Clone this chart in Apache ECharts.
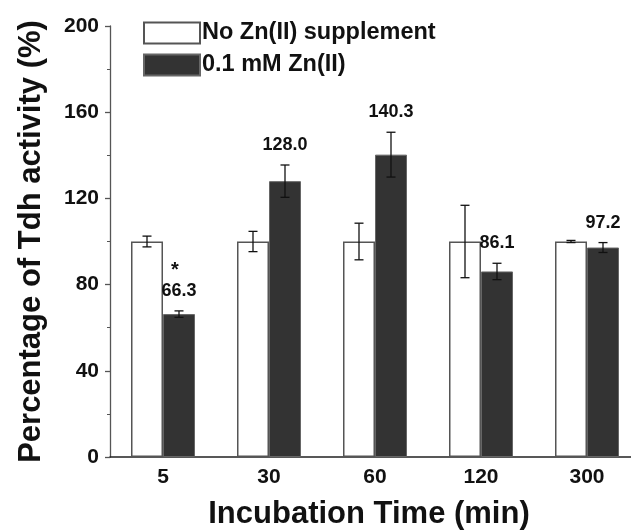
<!DOCTYPE html>
<html>
<head>
<meta charset="utf-8">
<script src="https://cdn.jsdelivr.net/npm/echarts@6/dist/echarts.min.js"></script>
<style>
  html, body { margin: 0; padding: 0; background: #fff; }
  #chart { width: 631px; height: 531px; }
</style>
</head>
<body>
<div id="chart"></div>
<script>
// data
const times = ['5', '30', '60', '120', '300']
const noZinc = [100, 100, 100, 100, 100]
const noZincErr = [2.5, 4.7, 8.5, 16.8, 0.5]
const zinc = [66.3, 128.0, 140.3, 86.1, 97.2]
const zincErr = [1.5, 7.5, 10.4, 3.8, 2.3]
const zincLabels = ['66.3', '128.0', '140.3', '86.1', '97.2']
const marks = ['*', '', '', '', '']
const yTicks = [0, 40, 80, 120, 160, 200]

const font = 'Liberation Sans, Arial, sans-serif'
const barW = 32

// error bar items: [category, low, high, side]
const errData = []
times.forEach((t, i) => {
  errData.push([i, noZinc[i] - noZincErr[i], noZinc[i] + noZincErr[i], -1])
  errData.push([i, zinc[i] - zincErr[i], zinc[i] + zincErr[i], 1])
})

function renderErr(params, api) {
  const cat = api.value(0)
  const side = api.value(3)
  const lo = api.coord([cat, api.value(1)])
  const hi = api.coord([cat, api.value(2)])
  const x = lo[0] + side * barW / 2
  const cap = 4.5
  const style = { stroke: '#111', lineWidth: 1.3 }
  return {
    type: 'group',
    children: [
      { type: 'line', shape: { x1: x, y1: lo[1], x2: x, y2: hi[1] }, style },
      { type: 'line', shape: { x1: x - cap, y1: lo[1], x2: x + cap, y2: lo[1] }, style },
      { type: 'line', shape: { x1: x - cap, y1: hi[1], x2: x + cap, y2: hi[1] }, style }
    ]
  }
}

// value labels above the zinc error bars
const labelData = times.map((t, i) => [i, zinc[i] + zincErr[i], zincLabels[i], marks[i]])

function renderLabel(params, api) {
  const i = params.dataIndex
  const p = api.coord([api.value(0), api.value(1)])
  const x = p[0] + barW / 2
  const children = [{
    type: 'text',
    style: {
      x: x, y: p[1] - 20, text: labelData[i][2],
      font: 'bold 18px ' + font, fill: '#111',
      textAlign: 'center', textVerticalAlign: 'middle'
    }
  }]
  if (labelData[i][3]) {
    children.push({
      type: 'text',
      style: {
        x: x - 4, y: p[1] - 40, text: labelData[i][3],
        font: 'bold 20px ' + font, fill: '#111',
        textAlign: 'center', textVerticalAlign: 'middle'
      }
    })
  }
  return { type: 'group', children }
}

const chart = echarts.init(document.getElementById('chart'), null, { renderer: 'canvas' })
chart.setOption({
  animation: false,
  backgroundColor: '#fff',
  textStyle: { fontFamily: font },
  grid: { left: 110, top: 26, width: 530, bottom: 74, containLabel: false, outerBoundsMode: 'none' },
  legend: {
    orient: 'vertical',
    left: 143,
    top: 21,
    icon: 'rect',
    itemWidth: 56,
    itemHeight: 21,
    itemGap: 8,
    padding: 0,
    data: ['No Zn(II) supplement', '0.1 mM Zn(II)'],
    textStyle: { fontFamily: font, fontWeight: 'bold', fontSize: 23.5, color: '#111', padding: [0, 0, 0, -3] }
  },
  xAxis: {
    type: 'category',
    data: times,
    name: 'Incubation Time (min)',
    nameLocation: 'middle',
    nameGap: 42,
    nameTextStyle: { fontFamily: font, fontWeight: 'bold', fontSize: 31, color: '#111', padding: [0, 12, 0, 0] },
    axisLine: { lineStyle: { color: '#222', width: 1.5 } },
    axisTick: { show: false },
    axisLabel: { fontFamily: font, fontWeight: 'bold', fontSize: 21, color: '#111', margin: 10 }
  },
  yAxis: {
    type: 'value',
    min: yTicks[0],
    max: yTicks[yTicks.length - 1],
    interval: 40,
    name: 'Percentage of Tdh activity (%)',
    nameLocation: 'middle',
    nameRotate: 90,
    nameGap: 63,
    nameTextStyle: { fontFamily: font, fontWeight: 'bold', fontSize: 31, color: '#111' },
    axisLine: { show: true, lineStyle: { color: '#555', width: 1.3 } },
    axisTick: { show: true, inside: false, length: 5, lineStyle: { color: '#555', width: 1.3 } },
    minorTick: { show: true, splitNumber: 2, length: 3, lineStyle: { color: '#555', width: 1 } },
    splitLine: { show: false },
    axisLabel: { fontFamily: font, fontWeight: 'bold', fontSize: 21, color: '#111', margin: 11 }
  },
  series: [
    {
      name: 'No Zn(II) supplement',
      type: 'bar',
      data: noZinc,
      barWidth: barW,
      barGap: '0%',
      itemStyle: { color: '#fff', borderColor: '#555', borderWidth: 1.5 }
    },
    {
      name: '0.1 mM Zn(II)',
      type: 'bar',
      data: zinc,
      barWidth: barW,
      itemStyle: { color: '#333', borderColor: '#666', borderWidth: 1 }
    },
    {
      type: 'custom',
      renderItem: renderErr,
      data: errData,
      z: 10,
      silent: true
    },
    {
      type: 'custom',
      renderItem: renderLabel,
      data: labelData.map(d => [d[0], d[1]]),
      z: 11,
      silent: true
    }
  ]
})
</script>
</body>
</html>
